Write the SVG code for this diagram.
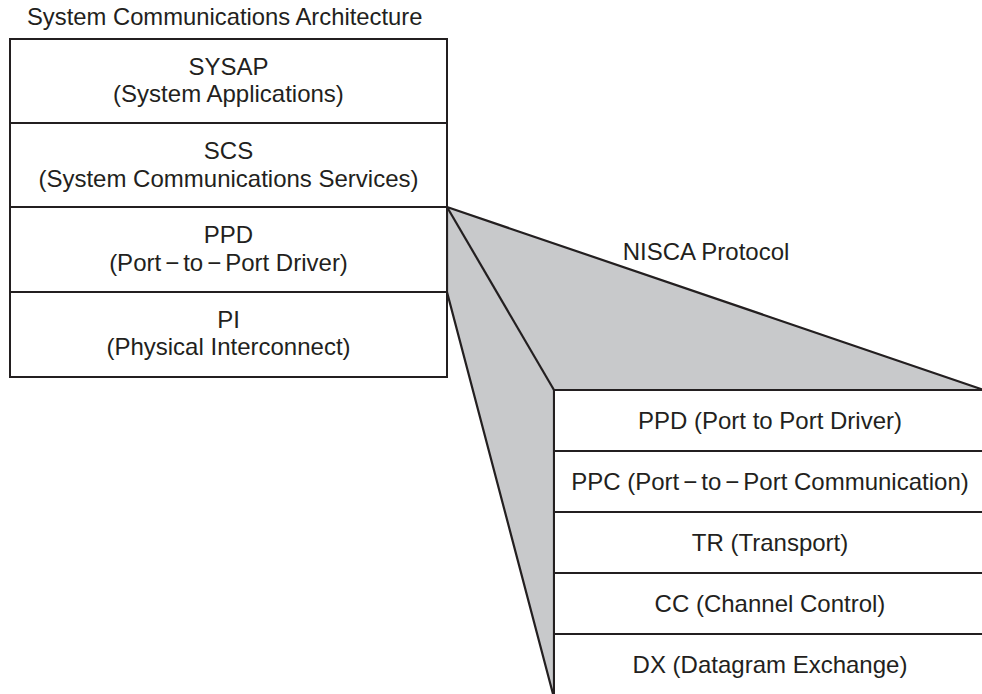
<svg xmlns="http://www.w3.org/2000/svg" width="982" height="694" viewBox="0 0 982 694">
<style>
text{font-family:"Liberation Sans",Arial,sans-serif;font-size:24px;fill:#231f20;text-anchor:middle}
.box{fill:#fff;stroke:#231f20;stroke-width:2}
.ln{stroke:#231f20;stroke-width:2.2;fill:none}
</style>
<rect width="982" height="694" fill="#fff"/>
<text x="27" y="25" style="text-anchor:start;font-size:23.8px">System Communications Architecture</text>
<g id="connectors">
<path d="M447,207 L984,390 L554,390 L554,694 L553,694 L447,292 Z" fill="#c8c9cb" stroke="#231f20" stroke-width="2.2" stroke-linejoin="miter"/>
<line class="ln" x1="447" y1="207" x2="554" y2="390"/>
</g>
<g id="sysap"><rect class="box" x="10" y="39" width="437" height="84"/><text x="228.5" y="75">SYSAP</text><text x="228.5" y="102">(System Applications)</text></g>
<g id="scs"><rect class="box" x="10" y="123" width="437" height="84"/><text x="228.5" y="159">SCS</text><text x="228.5" y="187">(System Communications Services)</text></g>
<g id="ppd"><rect class="box" x="10" y="207" width="437" height="85"/><text x="228.5" y="243">PPD</text><text x="228.5" y="271">(Port<tspan dx="4">−</tspan><tspan dx="4">to</tspan><tspan dx="4">−</tspan><tspan dx="4">Port Driver)</tspan></text></g>
<g id="pi"><rect class="box" x="10" y="292" width="437" height="85"/><text x="228.5" y="328">PI</text><text x="228.5" y="355">(Physical Interconnect)</text></g>
<text x="706" y="260">NISCA Protocol</text>
<g id="n-ppd"><rect class="box" x="554" y="390" width="440" height="61"/><text x="770" y="429">PPD (Port to Port Driver)</text></g>
<g id="n-ppc"><rect class="box" x="554" y="451" width="440" height="61"/><text x="770" y="490">PPC (Port<tspan dx="4">−</tspan><tspan dx="4">to</tspan><tspan dx="4">−</tspan><tspan dx="4">Port Communication)</tspan></text></g>
<g id="n-tr"><rect class="box" x="554" y="512" width="440" height="61"/><text x="770" y="551">TR (Transport)</text></g>
<g id="n-cc"><rect class="box" x="554" y="573" width="440" height="61"/><text x="770" y="612">CC (Channel Control)</text></g>
<g id="n-dx"><rect class="box" x="554" y="634" width="440" height="70"/><text x="770" y="673">DX (Datagram Exchange)</text></g>
</svg>
